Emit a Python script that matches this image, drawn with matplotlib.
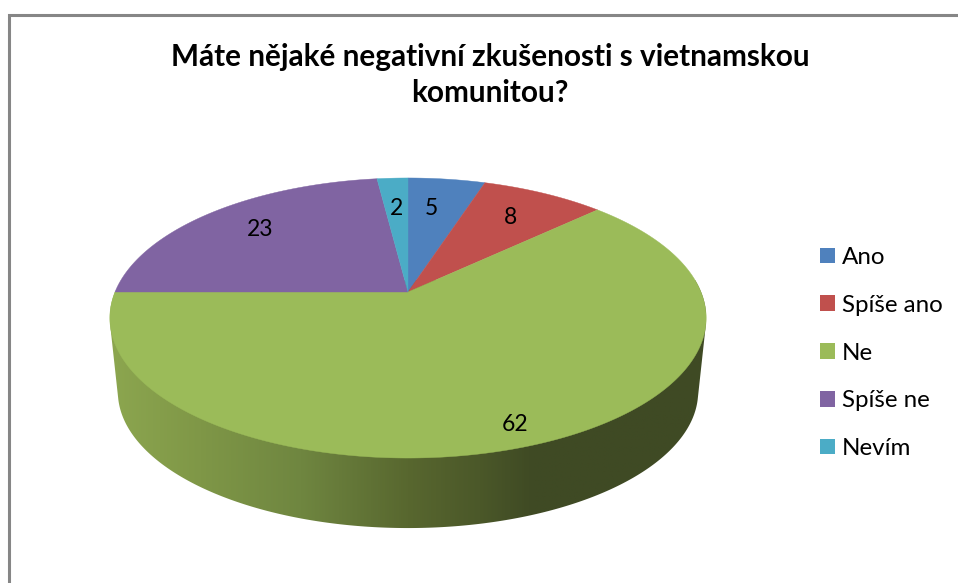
import numpy as np
import matplotlib
matplotlib.use("Agg")
import matplotlib.pyplot as plt
from matplotlib.colors import LinearSegmentedColormap
from matplotlib.patches import Patch, Polygon

# --- data -------------------------------------------------------------
categories = ["Ano", "Spíše ano", "Ne", "Spíše ne", "Nevím"]
values = [5, 8, 62, 23, 2]
title = "Máte nějaké negativní zkušenosti s vietnamskou\nkomunitou?"

# --- style ------------------------------------------------------------
colors = ["#4F81BD", "#C0504D", "#9BBB59", "#8064A2", "#4BACC6"]
label_radius = [0.70, 0.725, 0.885, 0.745, 0.70]
label_nudge_deg = [-1.5, 0.0, 1.2, 1.0, 0.0]
plt.rcParams["font.family"] = ["Lato", "DejaVu Sans"]

W, H = 958, 583
CX, CY = 408.0, 292.0
A, B, K = 135.2, 293.0, 0.1857   # perspective projection of the disc
RIM_SCALE, RIM_CY = 0.973, 366.5  # lower rim of the drum


def project(theta_deg, r=1.0, cy=CY, scale=1.0):
    t = np.radians(theta_deg)
    u, v = r * np.sin(t), r * np.cos(t)
    d = 1 + K * v
    return CX + scale * B * u / d, cy - scale * A * v / d


def convex_hull(points):
    pts = sorted(set(map(tuple, np.round(points, 3))))

    def half(seq):
        out = []
        for p in seq:
            while len(out) > 1 and (
                (out[-1][0] - out[-2][0]) * (p[1] - out[-2][1])
                - (out[-1][1] - out[-2][1]) * (p[0] - out[-2][0])
            ) <= 0:
                out.pop()
            out.append(p)
        return out[:-1]

    return np.array(half(pts) + half(pts[::-1]))


fig = plt.figure(figsize=(W / 100, H / 100), dpi=100, facecolor="white")
ax = fig.add_axes([0, 0, 1, 1])

# chart frame (right and bottom edges fall outside the crop)
ax.plot([9.5, 9.5, W + 5], [H + 5, 14.5, 14.5], color="#868686", lw=2.2,
        solid_joinstyle="miter", zorder=1)

edges = np.concatenate([[0], np.cumsum(values)]) * 360.0 / sum(values)
wall_cmap = LinearSegmentedColormap.from_list(
    "wall",
    [(0.0, "#8CA64F"), (0.15, "#7F9747"), (0.32, "#6F8640"), (0.50, "#58672F"),
     (0.62, "#4B5829"), (0.71, "#3F4A24"), (1.0, "#3F4A24")],
)

# side wall of the slice facing the viewer: horizontal gradient clipped to the drum
wall_slice = int(np.argmax(values))
th = np.linspace(edges[wall_slice], edges[wall_slice + 1], 400)
xt, yt = project(th)
xb, yb = project(th, cy=RIM_CY, scale=RIM_SCALE)
hull = convex_hull(np.column_stack([np.r_[xt, xb], np.r_[yt, yb]]))
wall_patch = Polygon(hull, closed=True, facecolor="none", edgecolor="none", transform=ax.transData)
ax.add_patch(wall_patch)
im = ax.imshow(np.linspace(0, 1, 600)[None, :], cmap=wall_cmap, vmin=0, vmax=1, aspect="auto",
               extent=(110, 706, 540, 280), zorder=2, interpolation="bilinear")
im.set_clip_path(wall_patch)

ax.set_xlim(0, W)
ax.set_ylim(H, 0)
ax.axis("off")

# top surface
for i, col in enumerate(colors):
    th = np.linspace(edges[i], edges[i + 1], 300)
    x, y = project(th)
    pts = np.column_stack([np.r_[CX, x], np.r_[CY, y]])
    ax.add_patch(Polygon(pts, closed=True, facecolor=col, edgecolor=col, lw=0.3, zorder=3))

# value labels
for i, val in enumerate(values):
    mid = (edges[i] + edges[i + 1]) / 2 + label_nudge_deg[i]
    x, y = project(mid, r=label_radius[i])
    ax.text(x, y, str(val), ha="center", va="center", fontsize=16.5, color="black", zorder=4)

ax.text(490, 75, title, ha="center", va="center", fontsize=21.4, fontweight="bold",
        color="black", linespacing=1.36)

handles = [Patch(facecolor=c, edgecolor=c, lw=0) for c in colors]
ax.legend(handles, categories, loc="center left", bbox_to_anchor=(820 / W, 1 - 353 / H),
          bbox_transform=fig.transFigure, frameon=False, fontsize=17.4,
          handlelength=0.62, handleheight=0.62, handletextpad=0.29,
          labelspacing=1.11, borderaxespad=0, borderpad=0)

fig.savefig("out.png", dpi=100, facecolor="white")
